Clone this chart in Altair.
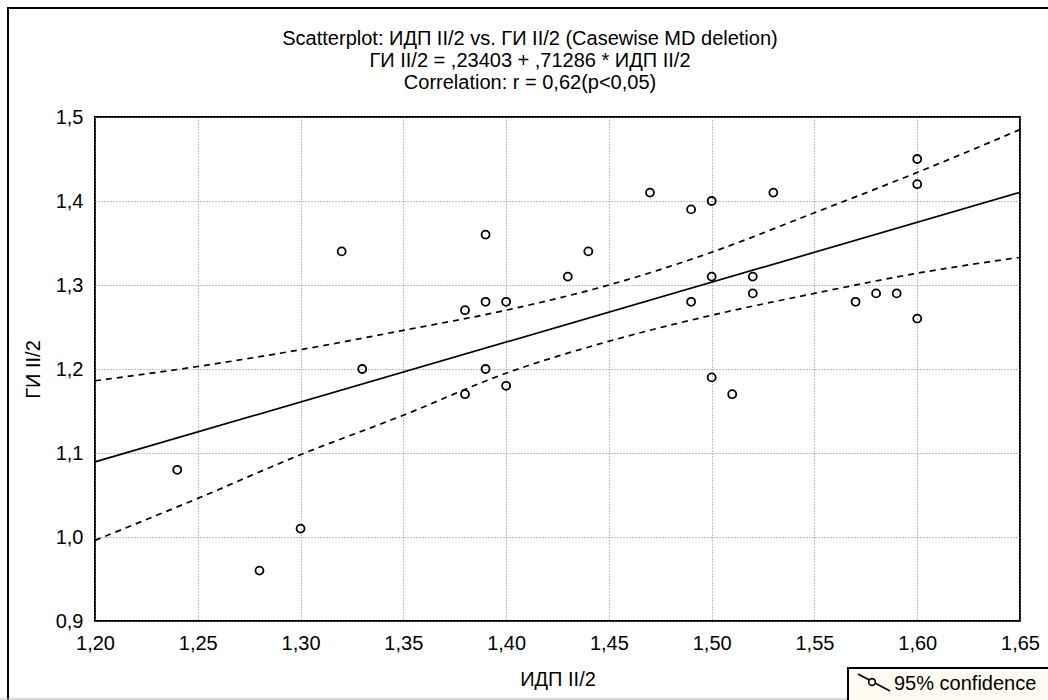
import altair as alt
import pandas as pd

# ---- data ----
idp = [1.24, 1.28, 1.30, 1.32, 1.33, 1.38, 1.38, 1.39, 1.39, 1.39,
       1.40, 1.40, 1.43, 1.44, 1.47, 1.49, 1.49, 1.50, 1.50, 1.50,
       1.51, 1.52, 1.52, 1.53, 1.57, 1.58, 1.59, 1.60, 1.60, 1.60]
gi = [1.08, 0.96, 1.01, 1.34, 1.20, 1.27, 1.17, 1.36, 1.28, 1.20,
      1.28, 1.18, 1.31, 1.34, 1.41, 1.39, 1.28, 1.40, 1.31, 1.19,
      1.17, 1.31, 1.29, 1.41, 1.28, 1.29, 1.29, 1.45, 1.42, 1.26]

intercept = 0.23403
slope = 0.71286
line_x = [1.20, 1.65]

band_x = [1.20, 1.25, 1.30, 1.35, 1.40, 1.45, 1.50, 1.55, 1.60, 1.65]
band_upper = [1.186, 1.203, 1.223, 1.246, 1.270, 1.300, 1.339, 1.386, 1.434, 1.485]
band_lower = [0.996, 1.046, 1.098, 1.145, 1.195, 1.233, 1.264, 1.290, 1.314, 1.333]

x_ticks = [1.20, 1.25, 1.30, 1.35, 1.40, 1.45, 1.50, 1.55, 1.60, 1.65]
y_ticks = [0.9, 1.0, 1.1, 1.2, 1.3, 1.4, 1.5]

title_lines = [
    "Scatterplot: ИДП II/2 vs. ГИ II/2 (Casewise MD deletion)",
    "ГИ II/2 = ,23403 + ,71286 * ИДП II/2",
    "Correlation: r = 0,62(p<0,05)",
]
x_title = "ИДП II/2"
y_title = "ГИ II/2"
legend_text = "95% confidence"

FONT = "Liberation Sans"
FS = 20

pts = pd.DataFrame({"x": idp, "y": gi})
line_df = pd.DataFrame({"x": line_x})
band_df = pd.concat([
    pd.DataFrame({"x": band_x, "y": band_upper, "side": "upper"}),
    pd.DataFrame({"x": band_x, "y": band_lower, "side": "lower"}),
])
one = pd.DataFrame({"a": [0]})

xs = alt.Scale(domain=[1.20, 1.65], nice=False, zero=False)
ys = alt.Scale(domain=[0.9, 1.5], nice=False, zero=False)

x_axis = alt.Axis(values=x_ticks, title=x_title, labelFlush=False,
                  labelExpr="replace(format(datum.value, '.2f'), '.', ',')")
y_axis = alt.Axis(values=y_ticks, title=y_title, labelFlush=False,
                  labelExpr="replace(format(datum.value, '.1f'), '.', ',')")

points = alt.Chart(pts).mark_point(
    shape="circle", filled=False, color="black", strokeWidth=1.8, size=64, opacity=1
).encode(
    x=alt.X("x:Q", scale=xs, axis=x_axis),
    y=alt.Y("y:Q", scale=ys, axis=y_axis),
)

reg = alt.Chart(line_df).transform_calculate(
    y=f"{intercept} + {slope} * datum.x"
).mark_line(color="black", strokeWidth=1.7).encode(
    x=alt.X("x:Q", scale=xs), y=alt.Y("y:Q", scale=ys)
)

bands = alt.Chart(band_df).mark_line(
    color="black", strokeWidth=1.7, strokeDash=[6, 5], interpolate="monotone"
).encode(
    x=alt.X("x:Q", scale=xs), y=alt.Y("y:Q", scale=ys), detail="side:N"
)

# title lines (three centred lines above the plot)
title_layers = [
    alt.Chart(one).mark_text(
        align="center", baseline="alphabetic", fontSize=FS, font=FONT, color="black"
    ).encode(x=alt.value(435), y=alt.value(yv), text=alt.value(t))
    for t, yv in zip(title_lines, [-72, -50, -28])
]

# legend box (bottom right)
leg_box = alt.Chart(one).mark_rect(
    fill="#fffbf0", stroke="black", strokeWidth=2
).encode(x=alt.value(753), x2=alt.value(965), y=alt.value(551), y2=alt.value(595))
leg_line = alt.Chart(one).mark_rule(color="black", strokeWidth=1.5).encode(
    x=alt.value(763), x2=alt.value(795), y=alt.value(557), y2=alt.value(574))
leg_pt = alt.Chart(one).mark_point(
    shape="circle", filled=True, fill="#fffbf0", stroke="black", strokeWidth=1.6, size=45, opacity=1
).encode(x=alt.value(777), y=alt.value(565))
leg_txt = alt.Chart(one).mark_text(
    align="left", baseline="middle", fontSize=FS, font=FONT, color="black"
).encode(x=alt.value(799), y=alt.value(567), text=alt.value(legend_text))

# outer frame
frame = alt.Chart(one).mark_rect(
    fillOpacity=0, stroke="black", strokeWidth=2
).encode(x=alt.value(-87), x2=alt.value(1000), y=alt.value(-109), y2=alt.value(700))
bottom_rule = alt.Chart(one).mark_rule(color="#b0b0b0", strokeWidth=1).encode(
    x=alt.value(-95), x2=alt.value(753), y=alt.value(582))

chart = alt.layer(
    frame, bottom_rule, bands, reg, points, *title_layers,
    leg_box, leg_line, leg_pt, leg_txt
).properties(
    width=925, height=504,
    autosize=alt.AutoSizeParams(type="none"),
    padding={"left": 95, "top": 117, "right": 28, "bottom": 79},
).configure(
    font=FONT, background="white"
).configure_view(
    stroke="black", strokeWidth=2
).configure_axis(
    domain=False, ticks=False,
    grid=True, gridColor="#808080", gridDash=[1, 2], gridWidth=1, gridOpacity=1,
    labelFont=FONT, labelFontSize=FS, labelColor="black",
    titleFont=FONT, titleFontSize=FS, titleFontWeight="normal", titleColor="black",
).configure_axisX(
    labelPadding=12, titlePadding=16
).configure_axisY(
    labelPadding=12, titlePadding=12
)

chart.save("out.html", embed_options={"renderer": "svg", "actions": False})
